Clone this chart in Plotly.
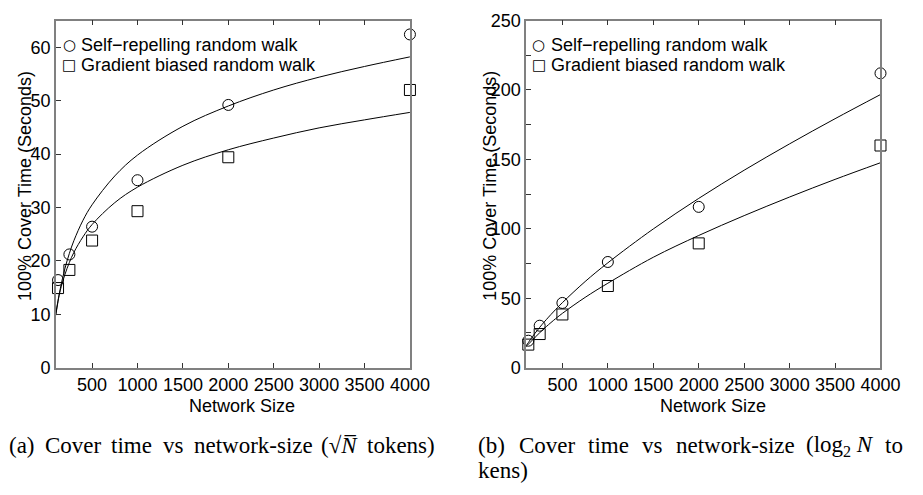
import plotly.graph_objects as go

W, H = 923, 495

# ---------------- data ----------------
network_sizes = [125, 250, 500, 1000, 2000, 4000]

# (a) sqrt(N) tokens
a_self_repelling = [16.4, 21.2, 26.4, 35.1, 49.2, 62.4]
a_gradient_biased = [14.9, 18.3, 23.8, 29.3, 39.4, 52.0]

# (b) log2 N tokens
b_self_repelling = [19.4, 30.2, 46.6, 76.1, 115.8, 212.0]
b_gradient_biased = [16.6, 24.2, 38.3, 58.8, 89.5, 160.0]

# fitted curves
fit_sizes = [100, 125, 150, 200, 250, 300, 400, 500, 750, 1000, 1500, 2000, 2500, 3000, 3500, 4000]
a_fit_self = [9.8, 12.4, 14.8, 18.5, 21.4, 23.8, 27.6, 30.5, 35.9, 39.8, 45.2, 49.0, 52.0, 54.4, 56.4, 58.2]
a_fit_grad = [10.0, 12.6, 14.5, 17.4, 19.7, 21.6, 24.5, 26.8, 30.9, 33.8, 37.9, 40.8, 43.0, 44.9, 46.4, 47.8]
b_fit_self = [15.8, 18.0, 20.4, 24.9, 29.0, 32.9, 40.1, 46.8, 62.0, 75.5, 99.9, 121.9, 142.2, 161.2, 179.3, 196.7]
b_fit_grad = [15.2, 16.8, 18.5, 21.9, 25.1, 28.2, 33.9, 39.1, 50.6, 60.8, 79.5, 95.2, 109.5, 122.9, 135.6, 147.6]

x_ticks = [500, 1000, 1500, 2000, 2500, 3000, 3500, 4000]
a_y_ticks = [0, 10, 20, 30, 40, 50, 60]
b_y_ticks = [0, 50, 100, 150, 200, 250]

series_names = ["Self\u2212repelling random walk", "Gradient biased random walk"]
x_title = "Network Size"
y_title = "100% Cover Time (Seconds)"
caption_a_words = ["(a)", "Cover", "time", "vs", "network-size", "(\u221a<i>N\u0305</i>", "tokens)"]
caption_b_words = ["(b)", "Cover", "time", "vs", "network-size", "(log<sub>2</sub> <i>N</i>", "to"]
caption_b_line2 = "kens)"

# ---------------- helpers ----------------
def px(x):
    return x / W

def py(y):
    return (H - y) / H

SANS = "Liberation Sans, Arial, Helvetica, sans-serif"
SERIF = "Liberation Serif, Times New Roman, serif"
AXIS_GRAY = "#808080"

fig = go.Figure()

def add_panel(xa, ya, self_vals, grad_vals, fit_self, fit_grad):
    for fv in (fit_self, fit_grad):
        fig.add_trace(go.Scatter(x=fit_sizes, y=fv, mode="lines", line=dict(color="black", width=1, shape="spline"),
                                 xaxis=xa, yaxis=ya, showlegend=False, hoverinfo="skip"))
    fig.add_trace(go.Scatter(x=network_sizes, y=self_vals, mode="markers", name=series_names[0],
                             marker=dict(symbol="circle-open", size=11, color="black", line=dict(width=1, color="black")),
                             xaxis=xa, yaxis=ya, showlegend=False, cliponaxis=False))
    fig.add_trace(go.Scatter(x=network_sizes, y=grad_vals, mode="markers", name=series_names[1],
                             marker=dict(symbol="square-open", size=11, color="black", line=dict(width=1, color="black")),
                             xaxis=xa, yaxis=ya, showlegend=False, cliponaxis=False))

add_panel("x", "y", a_self_repelling, a_gradient_biased, a_fit_self, a_fit_grad)
add_panel("x2", "y2", b_self_repelling, b_gradient_biased, b_fit_self, b_fit_grad)

y_dom = [py(372.7), py(11)]

xcommon = dict(range=[100, 4000], tickvals=x_ticks, ticks="inside", ticklen=5, tickcolor="#333",
               showline=True, linecolor=AXIS_GRAY, linewidth=1.5, mirror="ticks", showgrid=False, zeroline=False,
               tickfont=dict(family=SANS, size=18, color="black"), tickangle=0)
ycommon = dict(ticks="inside", ticklen=5, tickcolor="#333", showline=True, linecolor=AXIS_GRAY, linewidth=1.5,
               mirror=True, showgrid=False, zeroline=False, tickfont=dict(family=SANS, size=18, color="black"),
               domain=y_dom)

fig.update_layout(
    width=W, height=H, margin=dict(l=0, r=0, t=0, b=0),
    paper_bgcolor="white", plot_bgcolor="white",
    xaxis=dict(domain=[px(57), px(419)], anchor="y", **xcommon),
    yaxis=dict(range=[0, 65], tickvals=a_y_ticks, anchor="x", **ycommon),
    xaxis2=dict(domain=[px(537.7), px(900)], anchor="y2", **xcommon),
    yaxis2=dict(range=[0, 250], tickvals=b_y_ticks, anchor="x2",
                minor=dict(ticks="inside", dtick=25, ticklen=5, tickcolor="#333"), **ycommon),
    showlegend=False,
)

ann = []
# axis titles
for xc in (247, 728.5):
    ann.append(dict(x=px(xc), y=py(413), xref="paper", yref="paper", text=x_title, showarrow=False,
                    xanchor="center", yanchor="middle", font=dict(family=SANS, size=18, color="black")))
for xc in (25, 500):
    ann.append(dict(x=px(xc), y=py(183), xref="paper", yref="paper", text=y_title, showarrow=False,
                    textangle=-90, xanchor="center", yanchor="middle", font=dict(family=SANS, size=18, color="black")))

# legends
sym = ["\u25cb", "\u25a1"]
for (sx, tx) in ((70.7, 81), (550.7, 561)):
    for i, yy in enumerate((36, 57.3)):
        ann.append(dict(x=px(sx), y=py(yy), xref="paper", yref="paper", text=sym[i], showarrow=False,
                        xanchor="center", yanchor="middle", font=dict(family="DejaVu Sans", size=15, color="black")))
        ann.append(dict(x=px(tx), y=py(yy), xref="paper", yref="paper", text=series_names[i], showarrow=False,
                        xanchor="left", yanchor="middle", font=dict(family=SANS, size=18, color="black")))

# captions (justified word layout, as in the reference)
cap_font = dict(family=SERIF, size=23, color="black")
a_pos = [7, 44, 111.7, 164.1, 196, 326.3, 373.4]
b_pos = [487, 528.1, 598.6, 653.8, 688.5, 821.6, 902.1]
for w, xw in zip(caption_a_words, a_pos):
    ann.append(dict(x=px(xw), y=py(454), xref="paper", yref="paper", text=w, showarrow=False,
                    xanchor="left", yanchor="middle", font=cap_font))
for w, xw in zip(caption_b_words, b_pos):
    ann.append(dict(x=px(xw), y=py(454), xref="paper", yref="paper", text=w, showarrow=False,
                    xanchor="left", yanchor="middle", font=cap_font))
ann.append(dict(x=px(487), y=py(480), xref="paper", yref="paper", text=caption_b_line2, showarrow=False,
                xanchor="left", yanchor="middle", font=cap_font))

fig.update_layout(annotations=ann)
fig.write_html("out.html")
